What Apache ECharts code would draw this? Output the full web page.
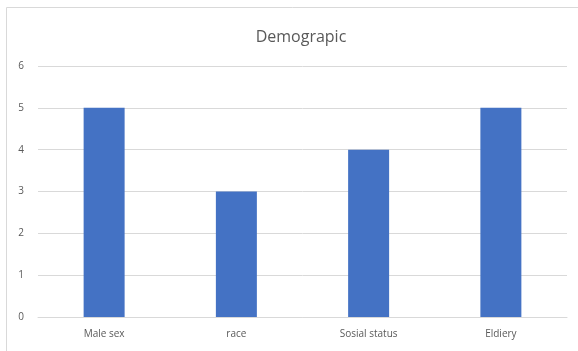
<!DOCTYPE html>
<html>
<head>
<meta charset="utf-8">
<script src="https://cdn.jsdelivr.net/npm/echarts@6/dist/echarts.min.js"></script>
<style>
  html, body { margin: 0; padding: 0; background: #fff; }
  #main { width: 578px; height: 351px; }
</style>
</head>
<body>
<div id="main"></div>
<script>
  var categories = ['Male sex', 'race', 'Sosial status', 'Eldiery'];
  var values = [5, 3, 4, 5];
  var chartTitle = 'Demograpic';

  var myChart = echarts.init(document.getElementById('main'));
  myChart.setOption({
    animation: false,
    color: ['#4472c4'],
    textStyle: { fontFamily: 'Open Sans, Liberation Sans, sans-serif' },
    title: {
      text: chartTitle,
      left: 296,
      top: 24,
      textAlign: 'center',
      textStyle: { color: '#595959', fontSize: 16, fontWeight: 'normal' }
    },
    graphic: [{
      type: 'rect',
      shape: { x: 6.5, y: 7.5, width: 600, height: 400 },
      style: { fill: 'none', stroke: '#d9d9d9', lineWidth: 1 },
      silent: true
    }],
    grid: { left: 38, right: 11, top: 66, bottom: 34 },
    xAxis: {
      type: 'category',
      data: categories,
      axisLine: { lineStyle: { color: '#d9d9d9' } },
      axisTick: { show: false },
      axisLabel: { color: '#595959', fontSize: 10, margin: 12 }
    },
    yAxis: {
      type: 'value',
      min: 0,
      max: 6,
      interval: 1,
      axisLine: { show: false },
      axisTick: { show: false },
      axisLabel: { color: '#595959', fontSize: 10, margin: 14 },
      splitLine: { lineStyle: { color: '#d9d9d9' } }
    },
    series: [{
      type: 'bar',
      data: values,
      barWidth: '31%'
    }]
  });
</script>
</body>
</html>
